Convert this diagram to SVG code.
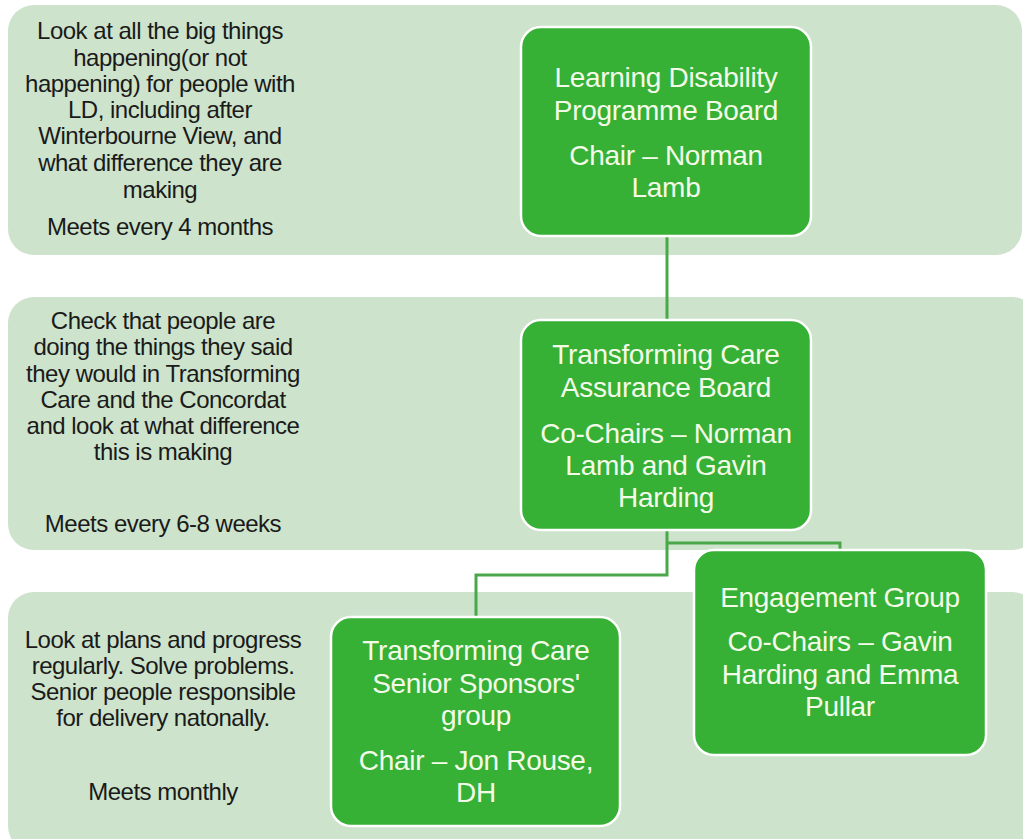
<svg xmlns="http://www.w3.org/2000/svg" width="1023" height="839" viewBox="0 0 1023 839">
<style>
.band{fill:#cde3cb}
.node{fill:#36b035;stroke:#ffffff;stroke-width:2.5}
.nt{font-family:"Liberation Sans",Arial,sans-serif;font-size:28px;fill:#f3fbe8;text-anchor:middle;letter-spacing:-0.3px}
.lt{font-family:"Liberation Sans",Arial,sans-serif;font-size:24px;fill:#1a1a1a;text-anchor:middle;letter-spacing:-0.5px}
.conn{fill:none;stroke:#4aa84a;stroke-width:3}
</style>
<rect width="1023" height="839" fill="#ffffff"/>
<g id="bands">
<rect class="band" x="8" y="5" width="1014" height="250" rx="26"/>
<rect class="band" x="8" y="297" width="1030" height="253" rx="26"/>
<rect class="band" x="8" y="592" width="1030" height="260" rx="26"/>
</g>
<g id="descriptions">
<text class="lt" x="160"><tspan x="160" y="39">Look at all the big things</tspan><tspan x="160" y="66">happening(or not</tspan><tspan x="160" y="92">happening) for people with</tspan><tspan x="160" y="118">LD, including after</tspan><tspan x="160" y="144">Winterbourne View,  and</tspan><tspan x="160" y="171">what difference they are</tspan><tspan x="160" y="198">making</tspan><tspan x="160" y="235">Meets every 4 months</tspan></text>
<text class="lt" x="163"><tspan x="163" y="329">Check that people are</tspan><tspan x="163" y="355">doing the things they said</tspan><tspan x="163" y="382">they would in Transforming</tspan><tspan x="163" y="408">Care and the Concordat</tspan><tspan x="163" y="434">and look at what difference</tspan><tspan x="163" y="460">this is making</tspan><tspan x="163" y="532">Meets every 6-8 weeks</tspan></text>
<text class="lt" x="163"><tspan x="163" y="648">Look at plans and progress</tspan><tspan x="163" y="674">regularly. Solve problems.</tspan><tspan x="163" y="700">Senior people responsible</tspan><tspan x="163" y="726">for delivery natonally.</tspan><tspan x="163" y="800">Meets monthly</tspan></text>
</g>
<g id="connectors">
<path class="conn" d="M667 236 V320"/>
<path class="conn" d="M667 530 V575 H476 V617"/>
<path class="conn" d="M667 543 H840 V550"/>
</g>
<g id="node-ldpb">
<rect class="node" x="521" y="27" width="290" height="209" rx="20"/>
<text class="nt"><tspan x="666" y="87">Learning Disability</tspan><tspan x="666" y="120">Programme  Board</tspan><tspan x="666" y="165">Chair – Norman</tspan><tspan x="666" y="197">Lamb</tspan></text>
</g>
<g id="node-tcab">
<rect class="node" x="521" y="320" width="290" height="210" rx="20"/>
<text class="nt"><tspan x="666" y="364">Transforming Care</tspan><tspan x="666" y="397">Assurance Board</tspan><tspan x="666" y="443">Co-Chairs – Norman</tspan><tspan x="666" y="475">Lamb and Gavin</tspan><tspan x="666" y="507">Harding</tspan></text>
</g>
<g id="node-sponsors">
<rect class="node" x="331" y="617" width="289" height="209" rx="20"/>
<text class="nt"><tspan x="476" y="660">Transforming Care</tspan><tspan x="476" y="693">Senior Sponsors'</tspan><tspan x="476" y="725">group</tspan><tspan x="476" y="770">Chair – Jon Rouse,</tspan><tspan x="476" y="802">DH</tspan></text>
</g>
<g id="node-engagement">
<rect class="node" x="694" y="550" width="292" height="205" rx="20"/>
<text class="nt"><tspan x="840" y="607">Engagement Group</tspan><tspan x="840" y="651">Co-Chairs – Gavin</tspan><tspan x="840" y="684">Harding and Emma</tspan><tspan x="840" y="716">Pullar</tspan></text>
</g>
</svg>
